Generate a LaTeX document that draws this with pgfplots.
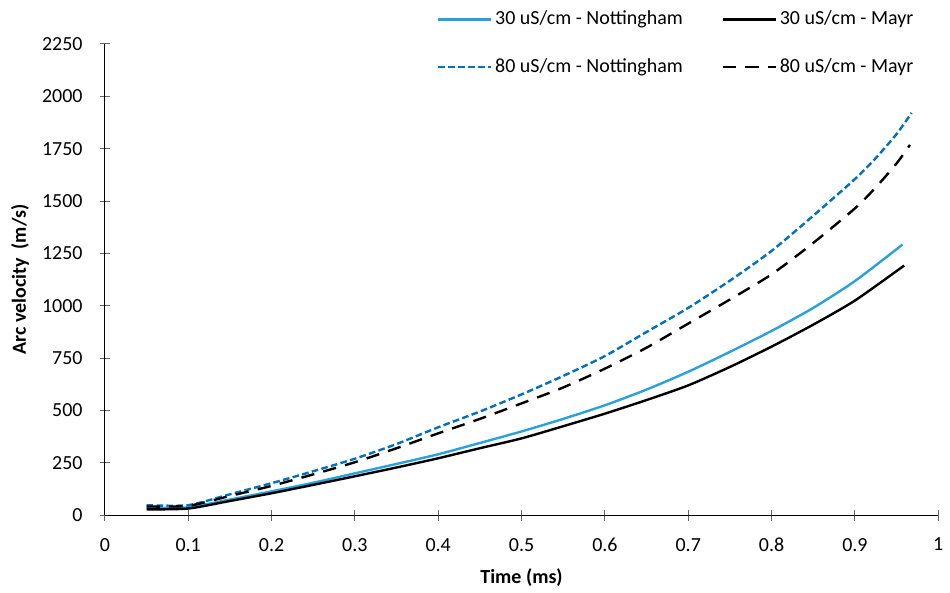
\documentclass[border=0pt]{standalone}
\usepackage{pgfplots}
\pgfplotsset{compat=1.18}
\usepackage{fontspec}
\setmainfont{Carlito}
\definecolor{nottA}{RGB}{41,161,221}
\definecolor{nottB}{RGB}{0,112,192}

\begin{document}
\fontsize{15}{18}\selectfont
\begin{tikzpicture}
\begin{axis}[
    scale only axis,
    width=626pt, height=354pt,
    xmin=0, xmax=1, ymin=0, ymax=2250,
    xtick={0,0.1,0.2,0.3,0.4,0.5,0.6,0.7,0.8,0.9,1},
    xticklabels={0,0.1,0.2,0.3,0.4,0.5,0.6,0.7,0.8,0.9,1},
    ytick={0,250,500,750,1000,1250,1500,1750,2000,2250},
    /pgf/number format/assume math mode=true,
    /pgf/number format/1000 sep={},
    axis x line*=bottom, axis y line*=left,
    axis line style={line width=0.8pt},
    tick align=center, major tick length=8pt,
    tick style={gray!80!black, line width=0.8pt},
    xticklabel shift=8pt,
    yticklabel shift=7.5pt,
    xlabel={\textbf{Time (ms)}},
    ylabel={\textbf{Arc velocity\ \ (m/s)}},
    xlabel style={at={(rel axis cs:0.5,0)}, anchor=center, yshift=-46.5pt},
    ylabel style={at={(rel axis cs:0,0.5)}, anchor=center, yshift=63.75pt},
    clip=false,
    legend columns=2,
    legend cell align=left,
    legend style={at={(rel axis cs:0.398,1)}, anchor=north west, yshift=27pt,
        draw=none, fill=none, inner sep=0pt, row sep=19pt,
        /tikz/every even column/.append style={column sep=27pt}},
    legend image code/.code={\draw[#1] (0pt,0pt) -- (40pt,0pt);},
]
\addplot[nottA, line width=1.8pt, smooth, tension=0.4] coordinates {
 (0.05,35) (0.1,38) (0.15,75) (0.2,114) (0.25,155) (0.3,200) (0.35,245)
 (0.4,291) (0.45,345) (0.5,400) (0.55,460) (0.6,525) (0.65,600) (0.7,685)
 (0.75,780) (0.8,880) (0.85,990) (0.9,1118) (0.957,1292) };
\addlegendentry{30 uS/cm - Nottingham}
\addplot[black, line width=1.8pt, smooth, tension=0.4] coordinates {
 (0.05,28) (0.1,32) (0.15,68) (0.2,105) (0.25,145) (0.3,186) (0.35,228)
 (0.4,272) (0.45,320) (0.5,367) (0.55,425) (0.6,485) (0.65,550) (0.7,620)
 (0.75,708) (0.8,805) (0.85,910) (0.9,1025) (0.959,1192) };
\addlegendentry{30 uS/cm - Mayr}
\addplot[nottB, line width=1.8pt, dash pattern=on 5pt off 2.5pt, smooth, tension=0.4] coordinates {
 (0.05,48) (0.1,48) (0.15,100) (0.2,153) (0.25,210) (0.3,270) (0.35,340)
 (0.4,420) (0.45,495) (0.5,577) (0.55,665) (0.6,760) (0.65,875) (0.7,990)
 (0.75,1120) (0.8,1262) (0.85,1430) (0.9,1605) (0.925,1705) (0.95,1820)
 (0.968,1921) };
\addlegendentry{80 uS/cm - Nottingham}
\addplot[black, line width=1.8pt, dash pattern=on 10pt off 7pt, smooth, tension=0.4] coordinates {
 (0.05,42) (0.1,45) (0.15,92) (0.2,140) (0.25,195) (0.3,253) (0.35,320)
 (0.4,391) (0.45,460) (0.5,534) (0.55,610) (0.6,700) (0.65,800) (0.7,915)
 (0.75,1030) (0.8,1150) (0.85,1300) (0.9,1465) (0.925,1565) (0.95,1680)
 (0.966,1768) };
\addlegendentry{80 uS/cm - Mayr}
\path ([xshift=-78.75pt,yshift=-55.5pt]rel axis cs:0,0)
    rectangle ([xshift=7.5pt,yshift=33pt]rel axis cs:1,1);
\end{axis}
\end{tikzpicture}
\end{document}
